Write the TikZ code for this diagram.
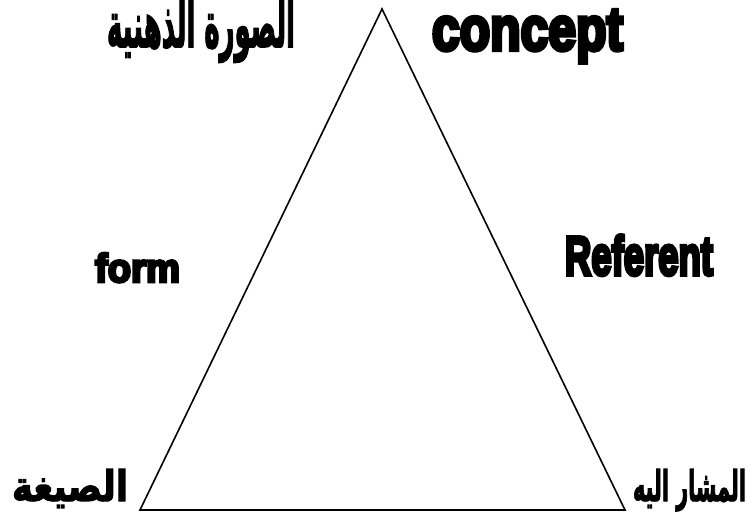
\documentclass[tikz,border=0pt]{standalone}
\usepackage{fontspec}
\usepackage{graphicx}
\TeXXeTstate=1
\newfontfamily\latinheavy[FakeBold=7]{Liberation Sans Bold}
\newfontfamily\arabicfont[Script=Arabic,FakeBold=3]{DejaVu Sans Bold}
% scale a label to a given width and height (above the baseline), in pt
\newcommand\fitlabel[3]{\resizebox{#1pt}{#2pt}{#3}}
\newcommand\ar[1]{\arabicfont\beginR #1\endR}
\tikzset{
  lbl/.style={inner sep=0pt, outer sep=0pt, anchor=base west},
  side/.style={line width=1.6pt, line join=miter, black},
}
\begin{document}
\begin{tikzpicture}[x=1pt,y=-1pt]
\useasboundingbox (0,0) rectangle (747,519);
% corners of the semiotic triangle
\coordinate (apex) at (382,9);
\coordinate (baseL) at (140,510);
\coordinate (baseR) at (625,510);
\draw[side] (apex) -- (baseL) -- (baseR) -- cycle;
% labels at the corners and beside the sides
\node[lbl] (conceptAr) at (107,47) {\fitlabel{188}{48}{\ar{الصورة الذهنية}}};
\node[lbl] (conceptEn) at (432,50) {\fitlabel{191}{40}{\latinheavy concept}};
\node[lbl] (formEn) at (95,282) {\fitlabel{85}{29}{\latinheavy form}};
\node[lbl] (referentEn) at (565,275) {\fitlabel{148}{40}{\latinheavy Referent}};
\node[lbl] (formAr) at (12,501) {\fitlabel{116}{32}{\ar{الصيغة}}};
\node[lbl] (referentAr) at (633,501) {\fitlabel{113}{32}{\ar{المشار اليه}}};
\end{tikzpicture}
\end{document}
